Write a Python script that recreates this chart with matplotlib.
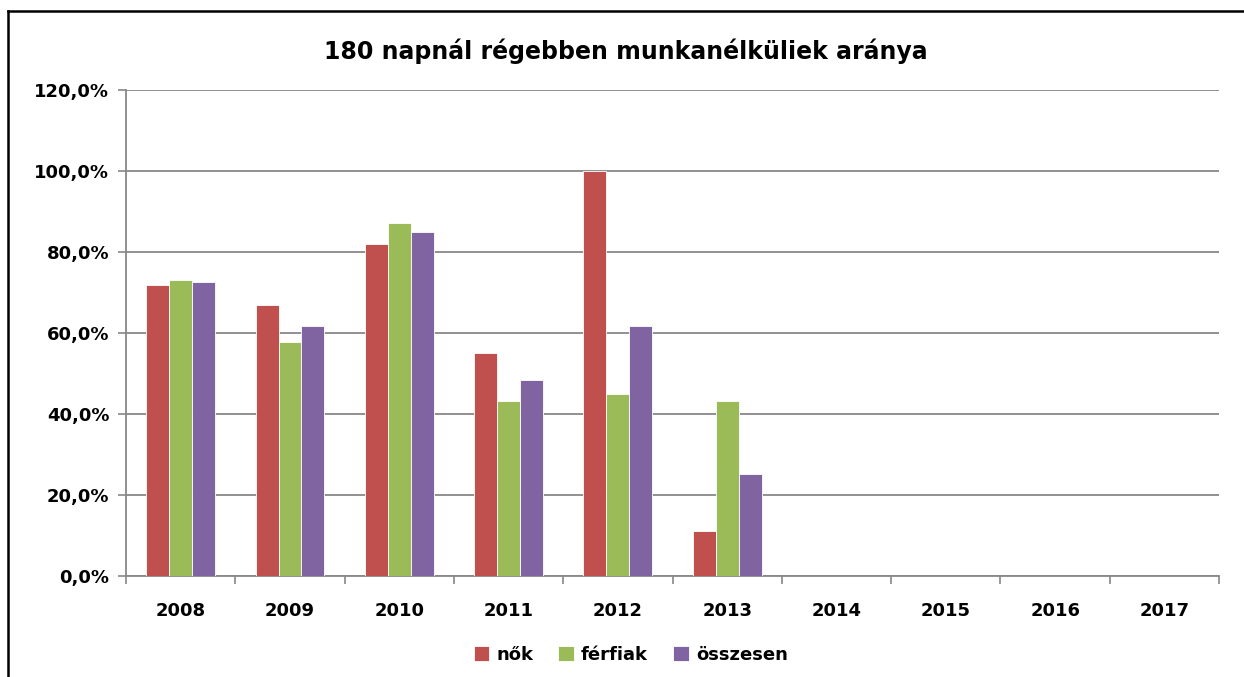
import numpy as np
import matplotlib.pyplot as plt
from matplotlib.lines import Line2D

years = ['2008', '2009', '2010', '2011', '2012', '2013', '2014', '2015', '2016', '2017']
nok = [71.8, 66.9, 82.0, 55.0, 100.0, 11.2]
ferfiak = [73.1, 57.8, 87.2, 43.2, 44.9, 43.2]
osszesen = [72.6, 61.7, 85.0, 48.3, 61.7, 25.2]
series_names = ['nők', 'férfiak', 'összesen']
colors = ['#C0504D', '#9BBB59', '#8064A2']
yticks = [0, 20, 40, 60, 80, 100, 120]

plt.rcParams['font.family'] = ['DejaVu Sans']

fig = plt.figure(figsize=(12.44, 6.77), dpi=100)
ax = fig.add_axes([0.1013, 0.1492, 0.8787, 0.7178])

x = np.arange(len(years))
w = 0.21
for i, (vals, name, c) in enumerate(zip([nok, ferfiak, osszesen], series_names, colors)):
    xs = x[:len(vals)] + (i - 1) * w
    ax.bar(xs, vals, width=w, color=c, edgecolor='white', linewidth=0.6, label=name, zorder=3)

ax.set_xlim(-0.5, len(years) - 0.5)
ax.set_ylim(0, 120)
ax.set_yticks(yticks)
ax.set_yticklabels([f'{v:.1f}%'.replace('.', ',') for v in yticks], fontsize=13, fontweight='bold')
ax.set_xticks(x)
ax.set_xticklabels(years, fontsize=13, fontweight='bold')
ax.tick_params(axis='x', length=0, pad=19)
ax.tick_params(axis='y', length=6, color='#888888', width=1.2, pad=6)
ax.set_xticks(np.arange(len(years) + 1) - 0.5, minor=True)
ax.tick_params(axis='x', which='minor', length=6, color='#888888', width=1.2)
ax.grid(axis='y', color='#888888', linewidth=1.3, zorder=0)
for s in ['top', 'right']:
    ax.spines[s].set_visible(False)
for s in ['left', 'bottom']:
    ax.spines[s].set_color('#888888')
    ax.spines[s].set_linewidth(1.3)

fig.text(0.503, 0.925, '180 napnál régebben munkanélküliek aránya', ha='center', va='center',
         fontsize=17, fontweight='bold')

leg = fig.legend(loc='center', bbox_to_anchor=(0.507, 0.033), ncol=3, frameon=False,
                 handlelength=0.85, handleheight=0.85, handletextpad=0.4, columnspacing=1.4,
                 prop={'size': 13, 'weight': 'bold'})

# chart frame
fig.add_artist(Line2D([0.0064, 0.0064], [0, 0.984], transform=fig.transFigure, color='black', lw=1.8))
fig.add_artist(Line2D([0.0064, 1.0], [0.984, 0.984], transform=fig.transFigure, color='black', lw=1.8))

fig.savefig('out.png', dpi=100)
